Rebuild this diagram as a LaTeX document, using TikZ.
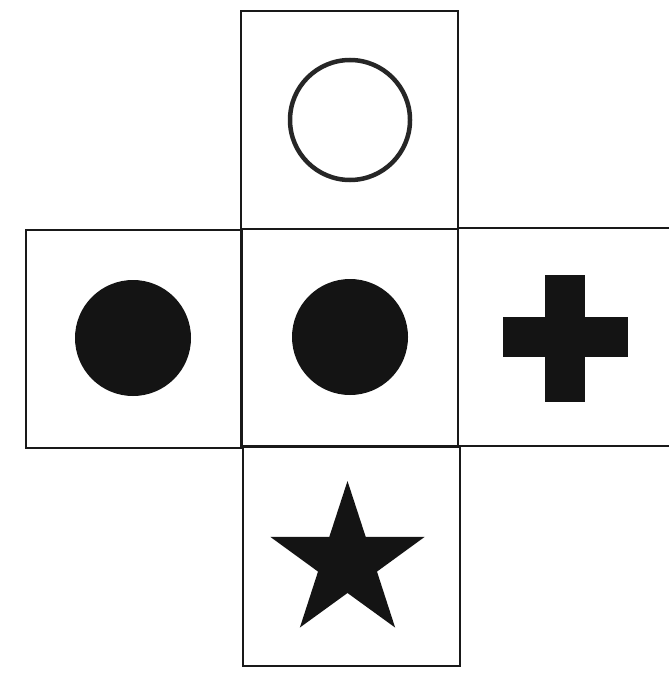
\documentclass[tikz,border=0pt]{standalone}
\begin{document}
\begin{tikzpicture}[x=1pt,y=1pt,
  boxline/.style={draw=black!90,line width=1.8pt},
  solid shape/.style={fill=black!92,draw=none},
  ring/.style={draw=black!85,line width=4.5pt,fill=none}]
\useasboundingbox (0,0) rectangle (669,-679);
\fill[white] (0,0) rectangle (669,-679);
% boxes
\draw[boxline] (241,-11) rectangle (458,-229);
\draw[boxline] (26,-230) rectangle (242,-448);
\draw[boxline] (241,-229) rectangle (458,-447);
\draw[boxline] (458,-228) -- (669,-228);
\draw[boxline] (458,-446) -- (669,-446);
\draw[boxline] (243,-446) rectangle (460,-666);
% symbols
\draw[ring] (350,-120) circle (60);
\fill[solid shape] (133,-338) circle (58);
\fill[solid shape] (350,-337) circle (58);
\fill[solid shape] (545,-275) rectangle (585,-402);
\fill[solid shape] (503,-317) rectangle (628,-357);
\fill[solid shape,shift={(347.5,-562)}] (90:81) -- (126:31) -- (162:81) -- (198:31) -- (234:81) -- (270:31) -- (306:81) -- (342:31) -- (18:81) -- (54:31) -- cycle;
\end{tikzpicture}
\end{document}
